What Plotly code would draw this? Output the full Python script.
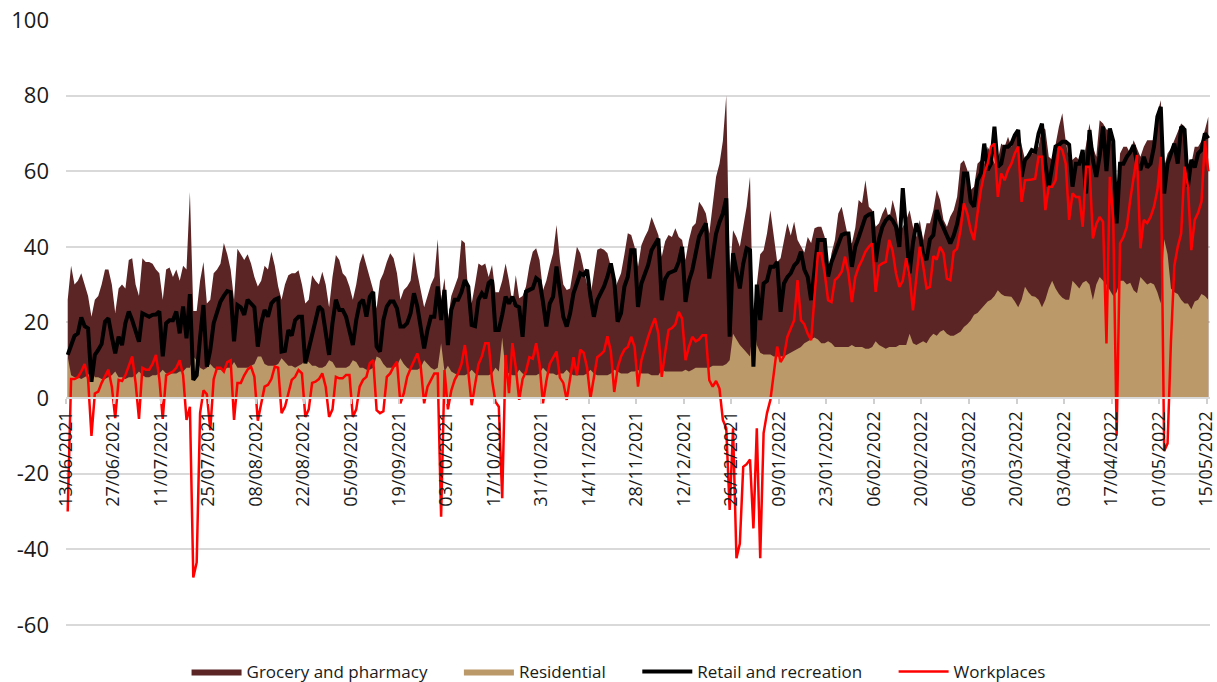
import pandas as pd
import plotly.graph_objects as go

start_date = "2021-06-13"
tick_labels_every_days = 14

# Daily values, 13/06/2021 .. 15/05/2022 (one row = one week, Sunday first)
grocery = [
    26, 35, 30, 31, 33, 30, 27,
    21.5, 26, 27, 30, 34, 34, 30,
    22.5, 29, 30, 29, 36.5, 37, 30,
    27, 37, 36, 36, 35.5, 34, 33,
    26, 34, 34.5, 32, 34, 31, 35,
    34, 54.5, 23, 23, 31, 36, 25,
    26, 33, 34, 35.5, 41, 38, 34,
    26, 39.5, 38, 36.5, 38, 35.6, 32,
    29.5, 31, 35, 34, 38.7, 35, 29.5,
    26, 30, 32.5, 33, 33, 33.8, 30,
    25, 26, 32.5, 31, 30, 33.4, 30,
    24, 32, 37.8, 36.5, 33, 32, 29.5,
    26, 30, 35.6, 38.3, 35, 31.5, 28.6,
    23.7, 31, 33, 36, 38.3, 37, 33,
    26, 28.6, 29.5, 31, 38.7, 33, 28.6,
    24, 27, 30, 32, 42, 26, 31.7,
    20.6, 27, 29.5, 32, 41.8, 41, 27.3,
    25, 30, 35.6, 35, 35.6, 32, 35.2,
    28, 28, 31, 35.6, 31, 25, 32.5,
    26.4, 27, 29.5, 35, 38.7, 39.6, 36.5,
    28.5, 31, 35, 38.3, 45.8, 36.5, 30,
    28.6, 29, 34, 40, 38.3, 34, 30,
    26.8, 33, 39.2, 39.6, 39.2, 38.3, 34.8,
    28.6, 31, 33, 38, 43.6, 43.1, 40,
    34.7, 40.4, 42.6, 44.4, 47.9, 45.3, 43.1,
    37.4, 41.5, 43.1, 42.6, 44.9, 42.6, 41.8,
    36.5, 41.8, 45.3, 46.2, 51.9, 50.6, 48.8,
    43.5, 51.5, 58.5, 62, 68, 80, 32,
    44.4, 42.6, 40, 45.3, 50.6, 58.5, 17,
    30, 38, 39.1, 43.5, 49.7, 42, 36,
    37, 41.5, 46.2, 43, 46.6, 41.8, 40,
    38.5, 42.6, 41, 44.9, 45.3, 45.3, 42.6,
    32.1, 38.3, 41.8, 48.8, 50.6, 46, 42,
    40.9, 45, 52.4, 51.5, 57.6, 50.6, 49.7,
    45.3, 46.2, 48.8, 50.6, 47.1, 52.4, 48.8,
    43.5, 45.3, 47, 49.7, 45.3, 42.6, 47.1,
    41.8, 46.2, 46.2, 49.7, 55, 52.4, 47.1,
    45.3, 48, 49.7, 53.2, 62, 62.9, 60.3,
    55, 55.9, 62, 62.9, 62, 66.5, 64.7,
    62, 62.9, 67.3, 66.5, 69.1, 66.5, 69,
    70.9, 66.5, 63, 64, 64.7, 65, 66.5,
    71.8, 71, 63.8, 63, 67, 71.8, 75.3,
    68, 63, 63, 63.8, 63, 62, 67,
    72.6, 66.5, 63.8, 73.5, 72.6, 71, 70.9,
    64.7, 49.7, 64.7, 66.5, 66.5, 64.7, 68.2,
    66, 63.8, 66.5, 68.2, 68.2, 68.2, 75.3,
    78.8, 61.2, 64.7, 66, 68.2, 70, 72.6,
    71.8, 62, 62, 66.5, 66.5, 68, 70.9,
    74.4,
]

residential = [
    11, 6, 5.5, 5.5, 5, 5.5, 6,
    7.5, 5.5, 5.5, 5, 5, 5.5, 6,
    7, 5.5, 5.5, 5, 5.5, 5.5, 6,
    7, 6, 5.5, 5.5, 6, 6, 6.5,
    7.5, 6.5, 6.5, 6.5, 6.5, 7, 7,
    8, 8, 11, 10, 8, 7.5, 8,
    9, 8, 7.5, 7.5, 7.5, 8, 8,
    9.5, 8, 8, 8, 8, 8.5, 9,
    11, 11, 9, 8.5, 8.5, 8.5, 9,
    10.5, 9.5, 8.5, 8.5, 8, 8.5, 9,
    10, 9.5, 8.5, 8.5, 8, 8, 8.5,
    10, 9.5, 8, 8, 8, 8, 8.5,
    10, 9.5, 8, 8, 7.5, 7.5, 8,
    11, 10.5, 9, 8, 8, 8, 8.5,
    10.5, 9, 8, 7.5, 7.5, 7.5, 8,
    10, 9, 8, 7.5, 8, 14.5, 7,
    8.5, 7, 6.5, 6, 6, 6, 6.5,
    7.5, 6.5, 6, 6, 6, 6, 6.5,
    8, 7, 16, 7, 6.5, 6, 6,
    7.5, 6.5, 6, 6, 6, 6, 6.5,
    8, 7, 6.5, 6.5, 6, 6.5, 6.5,
    7.5, 6.5, 6, 6, 6, 6, 6.5,
    7.5, 6.5, 6, 6, 6, 6, 6.5,
    7.5, 7, 6.5, 6.5, 6.5, 7, 7,
    7.5, 6.5, 6.5, 6.5, 6, 6, 6,
    7.5, 7, 7, 7, 7, 7, 7,
    7.5, 7, 7.5, 8, 8, 8, 8,
    8, 8.5, 8.5, 8.5, 8.5, 9, 10,
    17, 15.5, 14, 13, 12, 11, 20.5,
    14, 12, 11.5, 11.5, 11.5, 11, 11,
    11, 11, 11.5, 12, 12.5, 13, 13.5,
    14.5, 15, 15.5, 16, 15.5, 14.5, 14.5,
    15, 14.5, 13.5, 13.5, 13.5, 13.5, 13.5,
    14, 13.5, 13.5, 13.5, 13, 13, 13.5,
    15, 14, 13.5, 13, 13.5, 13.5, 13.5,
    14, 14, 14, 17, 14.5, 14, 14.5,
    15, 14.5, 16, 17, 16.5, 17.5, 18,
    17, 16.5, 16.5, 17, 17.5, 18.8, 19.5,
    20.5, 22, 22.5, 23.5, 24.5, 25.5, 26,
    27, 28.5, 27.5, 27, 26.8, 26.8, 25.5,
    24, 26, 29.4, 28, 27, 26.8, 26,
    24, 26, 29, 31, 29, 27.5, 26.5,
    26, 26, 31, 30, 29, 30.5, 31,
    30, 25.9, 30, 32, 31, 30, 28.5,
    27, 28, 31, 31, 30, 30.5, 28.5,
    27.7, 32, 31, 30, 30.5, 30, 28,
    25, 42, 38, 29, 28, 27.5, 26,
    25, 25, 23.5, 25.5, 26, 27.5, 27,
    26,
]

retail = [
    11.4, 14, 16.4, 17.1, 21.3, 19, 18.4,
    4.3, 11.4, 12.7, 14.3, 20.2, 21.1, 16.2,
    11.8, 16.2, 14, 19.8, 22.9, 20.6, 18,
    14.9, 22.4, 22, 21.5, 22, 22.1, 22.9,
    11, 19.8, 20.6, 20.6, 22.9, 17.1, 24.2,
    15.8, 27.5, 4.8, 6, 16, 24.6, 8.3,
    12.7, 19.8, 22.4, 25.5, 27, 28.3, 28,
    15, 24.6, 24, 22, 26, 25, 24,
    13.6, 19.8, 23.3, 21.5, 25, 26, 26.4,
    12.3, 12.5, 18, 16.5, 20.6, 21.5, 21.5,
    9.2, 13, 17, 19.8, 24.2, 23.3, 18,
    11.4, 19.8, 26, 23.3, 23.3, 21.5, 18,
    14, 20.6, 25, 26, 21.5, 26.8, 28.1,
    13.6, 12.3, 20.6, 24.2, 25.5, 25.5, 23.7,
    18.9, 18.9, 19.8, 22.4, 27.7, 24.2, 18,
    13.1, 18, 21.5, 21.5, 29.5, 20.6, 28.6,
    14, 23.3, 26, 26, 28, 31.2, 29.5,
    19.3, 19, 26, 27.7, 26.4, 30.4, 31.2,
    18, 18, 22, 26.8, 25, 26.8, 24.5,
    24, 16.2, 28.1, 28.6, 29, 31.7, 31,
    25.5, 18.9, 25, 26.8, 34.8, 28.1, 21.5,
    18.9, 22.4, 27.7, 30.4, 33, 32.5, 33.9,
    26.8, 21.5, 25.9, 27.7, 29.5, 32.1, 35.6,
    31, 20.2, 22.4, 29.5, 32.1, 39.1, 39.1,
    24.1, 30.3, 33, 35.2, 39.1, 40.5, 42.2,
    25.9, 31.5, 33, 33.4, 33.8, 36, 40,
    25.4, 31, 33.8, 38, 42.7, 44.5, 46.2,
    31.6, 38.3, 43.5, 46.5, 48.8, 52.8, 16.2,
    38.3, 34, 29, 35.5, 39.6, 39.1, 8.3,
    30, 20.6, 30.3, 31, 34.7, 34.7, 36,
    22.8, 30.3, 32, 33, 35, 36, 38.7,
    34, 32, 25.9, 34.7, 41.8, 41.8, 41.8,
    32.1, 36, 38.3, 41, 43.1, 43.5, 43.5,
    34.7, 40, 42.5, 45, 47.9, 48.5, 48.8,
    36, 42, 45.3, 47, 47.9, 47, 45.3,
    40, 55.5, 45, 33, 41, 46.2, 43.5,
    38, 36.5, 42, 43.1, 49.7, 47, 45,
    43.5, 40.9, 43, 46, 50.6, 59.4, 59.4,
    52, 50.6, 57.6, 59.4, 67.3, 60.3, 62,
    71.8, 61.2, 62, 66.5, 66.5, 67.3, 69.5,
    70.9, 58.5, 63, 64, 65.6, 65.2, 70,
    72.6, 62, 55.9, 62, 66.5, 67, 67.8,
    67.8, 67, 55.9, 62, 62, 65.6, 54.1,
    70.9, 63, 58.5, 64, 71.8, 60, 71.3,
    68, 46.2, 62, 62, 63.8, 65, 66.9,
    62, 60.3, 63.8, 61, 62, 66.5, 74.4,
    77, 54.1, 62, 64.7, 67.3, 62, 71.8,
    71, 55.9, 63, 61, 64.7, 65.6, 70,
    68.7,
]

workplaces = [
    -30, 5, 5, 5.5, 7, 9, 5,
    -10, 1.2, 1.7, 4, 5.6, 7.5, 3,
    -5.3, 4.8, 4.5, 6, 8.3, 11, 4,
    -5.5, 8, 7.5, 7.5, 9, 11.4, 5,
    -5.5, 6, 6.5, 7, 8, 10, 6,
    -5.8, -2.3, -47.5, -43.5, -4, 2, 1,
    -8.5, 5, 8, 8, 7, 9.5, 10,
    -5.8, 4, 4, 6, 7.5, 8.3, 5.6,
    -6, -1, 3, 3.5, 5, 8.3, 8,
    -4, -2.3, 1.2, 4.8, 5.6, 7.4, 6.5,
    -5, -3, 4, 4.3, 5, 6.5, 3,
    -5, -3, 5.6, 5.2, 5.2, 6.1, 6.1,
    -5, -3, 3, 4.8, 5.6, 9.2, 10,
    -3.2, -4, -3.5, 5.6, 6.5, 8.3, 9.6,
    -1.4, 1.2, 5.6, 7.8, 10, 11.8, 8.3,
    -1.4, 3, 4.8, 6.5, 6.5, -31.4, 7.4,
    -3, 2, 4.8, 6.5, 9, 14, 7,
    -1.9, 4, 8.9, 11, 14.5, 14.5, 4.8,
    -1, -2.3, -26.5, 11.4, 1.3, 14.5, 8,
    -0.5, 5, 7, 10.8, 10.4, 14.5, 9,
    -1.4, 4.5, 9, 10.8, 12.3, 5.4, 4,
    -0.5, 5, 10.8, 6, 12.8, 12, 8,
    0, 5, 10.8, 11.5, 12.4, 16.3, 12.4,
    1.6, 8, 11, 12.8, 13.5, 16.2, 13.5,
    3, 10, 13.5, 16.2, 18.8, 21.1, 17,
    5.6, 12, 18, 18.5, 19.5, 22.8, 21,
    10, 13.5, 16.2, 15, 15.5, 16.6, 16.6,
    4.7, 3, 4.5, 2.5, -5.8, -8, -29.6,
    -8, -42.4, -38.5, -18.2, -17.5, -16.3, -34.5,
    -8, -42.4, -9.3, -4, -0.5, 6.5, 13.6,
    9.5, 11, 16.2, 18.5, 20.6, 31.2, 20.6,
    19.5, 17, 15.3, 27.6, 38.3, 38.3, 33,
    25.9, 25.4, 31.2, 32, 33.4, 37.4, 33,
    25.4, 32, 34.7, 36.5, 38.7, 40, 40.9,
    28.1, 35, 35.6, 36, 41.8, 39, 33,
    29.4, 31, 37, 32, 23.2, 32, 40,
    35, 29, 29.4, 37.5, 36.6, 40, 38.3,
    31.6, 31.2, 38.7, 39.5, 44.4, 51.5, 48.8,
    44.4, 41.8, 48.8, 55, 59.4, 62, 66.5,
    67.3, 53.2, 59.4, 57.6, 60.3, 62, 64.7,
    66.5, 51.9, 57.6, 57.6, 57.8, 58, 63.8,
    63.8, 49.7, 55.9, 55.9, 57.6, 66.5, 65.6,
    62, 47.1, 54.1, 53.2, 53.2, 45.3, 61.2,
    61.2, 42.2, 46, 47.9, 46.6, 14.4, 58.5,
    47.1, -10, 40.9, 42.6, 45.3, 52.4, 58.5,
    64.3, 39.6, 47.1, 46.3, 47.9, 50.6, 55,
    63.8, -14, -12, 15, 35, 40, 43.5,
    61.2, 56, 39.1, 47.1, 49, 52, 68,
    60,
]

y_ticks = [-60, -40, -20, 0, 20, 40, 60, 80, 100]
y_tick_text = ["-60", "-40", "-20", "0", "20", "40", "60", "80", "100"]
y_min, y_max = -75.13, 100

n = len(grocery)
dates = pd.date_range(pd.Timestamp(start_date) + pd.Timedelta(hours=12), periods=n, freq="D")

FONT = "Open Sans"
PAD = "\u00a0" * 6
fig = go.Figure()
fig.add_trace(go.Scatter(x=dates, y=grocery, name="Grocery and pharmacy" + PAD, mode="lines",
                         line=dict(width=0, color="#5B2526"), fill="tozeroy",
                         fillcolor="#5B2526"))
fig.add_trace(go.Scatter(x=dates, y=residential, name="Residential" + PAD, mode="lines",
                         line=dict(width=0, color="#BC9968"), fill="tozeroy",
                         fillcolor="#BC9968"))
fig.add_trace(go.Scatter(x=dates, y=retail, name="Retail and recreation" + PAD, mode="lines",
                         line=dict(width=4, color="#000000")))
fig.add_trace(go.Scatter(x=dates, y=workplaces, name="Workplaces", mode="lines",
                         line=dict(width=2.5, color="#FF0000")))

x_start = pd.Timestamp(start_date)
x_end = x_start + pd.Timedelta(days=n)
zero_pos = (0 - y_min) / (y_max - y_min)

fig.update_layout(
    width=1217, height=682,
    template="none",
    paper_bgcolor="white", plot_bgcolor="white",
    margin=dict(l=66, r=7, t=20, b=0, autoexpand=False),
    font=dict(family=FONT, size=17, color="#1a1a1a"),
    showlegend=True,
    legend=dict(orientation="h", x=0.483, xanchor="center", y=0.015, yanchor="middle",
                font=dict(family=FONT, size=17, color="#1a1a1a"),
                itemwidth=50, bgcolor="rgba(0,0,0,0)", traceorder="normal"),
    xaxis=dict(
        type="date", range=[x_start, x_end],
        tick0=start_date, dtick=tick_labels_every_days * 86400000,
        tickformat="%d/%m/%Y", tickangle=-90,
        tickfont=dict(family=FONT, size=18, color="#1a1a1a"),
        ticks="outside", ticklen=5, tickcolor="#d0d0d0", tickwidth=1.5,
        ticklabeloverflow="allow",
        showgrid=False, showline=True, linecolor="#d9d9d9", linewidth=2,
        anchor="free", position=zero_pos, automargin=False, zeroline=False,
    ),
    yaxis=dict(
        range=[y_min, y_max], tickvals=y_ticks, ticktext=y_tick_text,
        tickfont=dict(family=FONT, size=22, color="#1a1a1a"),
        showgrid=True, gridcolor="#d9d9d9", gridwidth=2,
        zeroline=False, showline=False, ticks="", ticklabelstandoff=16,
        automargin=False,
    ),
)

fig.write_html("out.html",
               config={"displayModeBar": False},
               post_script="document.body.style.margin='0px';document.body.style.padding='0px';")
